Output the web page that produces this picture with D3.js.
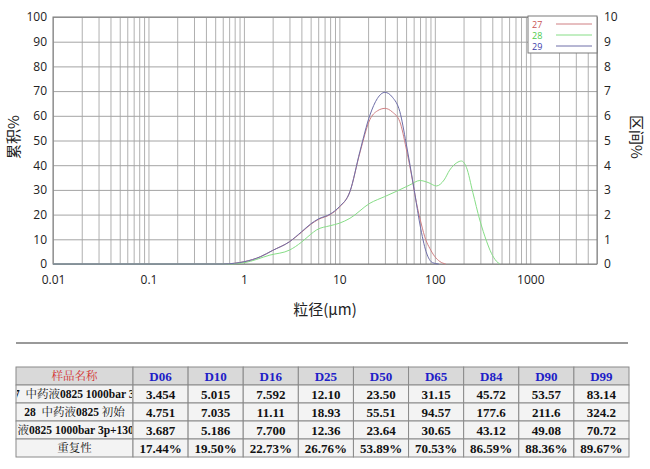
<!DOCTYPE html>
<html>
<head>
<meta charset="utf-8">
<script src="https://cdn.jsdelivr.net/npm/d3@7"></script>
<style>
  body { margin: 0; background: #fff; }
  svg { display: block; }
  .tick text { font-family: "Open Sans", "Noto Sans", sans-serif; font-size: 12px; fill: #222; }
</style>
</head>
<body>
<div id="chart"></div>
<script>
// particle size (um) and interval % for each sample
const sizes27 = [0.6, 0.8, 1.0, 1.5, 2, 3, 4, 5, 6, 8, 10, 12.9, 16.4, 20.9, 25, 30, 36, 43, 50, 57, 64, 72.6, 80, 88.7, 100, 113, 130];
const vals27  = [0, 0.03, 0.09, 0.3, 0.55, 0.9, 1.28, 1.6, 1.8, 2.0, 2.3, 2.93, 4.5, 5.85, 6.2, 6.3, 6.15, 5.76, 4.7, 3.6, 2.5, 1.58, 1.0, 0.63, 0.3, 0.1, 0];

const sizes28 = [0.7, 1.0, 1.87, 3.03, 4, 5, 5.77, 8, 10, 12.9, 20.9, 29.9, 40, 54.7, 69.7, 85, 104, 125, 143, 170, 190, 215, 250, 296, 350, 392, 440, 480];
const vals28  = [0, 0.05, 0.36, 0.57, 0.88, 1.2, 1.38, 1.55, 1.65, 1.85, 2.46, 2.73, 2.95, 3.2, 3.38, 3.3, 3.16, 3.4, 3.8, 4.1, 4.17, 3.9, 2.9, 1.78, 0.9, 0.43, 0.12, 0];

const sizes29 = [0.6, 0.8, 1.0, 1.5, 2, 3, 4, 5, 6, 8, 10, 12.9, 16.4, 20.9, 25, 30, 36, 43, 50, 55, 62, 70, 81, 95, 110];
const vals29  = [0, 0.03, 0.09, 0.3, 0.55, 0.9, 1.3, 1.62, 1.82, 2.02, 2.32, 2.93, 4.55, 6.03, 6.7, 6.95, 6.75, 6.17, 4.9, 4.0, 2.8, 1.58, 0.5, 0.05, 0];

const seriesNames = ["27", "28", "29"];
const xTicks = [0.01, 0.1, 1, 10, 100, 1000];
const leftTicks = [0, 10, 20, 30, 40, 50, 60, 70, 80, 90, 100];
const rightTicks = [0, 1, 2, 3, 4, 5, 6, 7, 8, 9, 10];

// table
const colLabels = ["D06", "D10", "D16", "D25", "D50", "D65", "D84", "D90", "D99"];
const rowNames = ["27  中药液0825 1000bar 3p", "28  中药液0825 初始", "29  中药液0825 1000bar 3p+1300bar 3p", "重复性"];
const row27 = ["3.454", "5.015", "7.592", "12.10", "23.50", "31.15", "45.72", "53.57", "83.14"];
const row28 = ["4.751", "7.035", "11.11", "18.93", "55.51", "94.57", "177.6", "211.6", "324.2"];
const row29 = ["3.687", "5.186", "7.700", "12.36", "23.64", "30.65", "43.12", "49.08", "70.72"];
const rowRep = ["17.44%", "19.50%", "22.73%", "26.76%", "53.89%", "70.53%", "86.59%", "88.36%", "89.67%"];

const W = 650, H = 469;
const plot = {left: 53, right: 597, top: 17, bottom: 264};

const svg = d3.select("#chart").append("svg")
    .attr("width", W)
    .attr("height", H);

const x = d3.scaleLog().domain([0.01, 5000]).range([plot.left, plot.right]);
const yL = d3.scaleLinear().domain([0, 100]).range([plot.bottom, plot.top]);
const yR = d3.scaleLinear().domain([0, 10]).range([plot.bottom, plot.top]);

// minor/major vertical grid values
let gridX = [];
for (let e = -2; e <= 3; e++) {
    for (let m = 1; m <= 9; m++) {
        let v = m * Math.pow(10, e);
        if (v <= 5000) gridX.push(+v.toPrecision(3));
    }
}

// vertical grid
svg.append("g")
    .attr("transform", "translate(0," + plot.bottom + ")")
    .call(d3.axisBottom(x).tickValues(gridX).tickSize(-(plot.bottom - plot.top)).tickFormat(""))
    .call(g => g.select(".domain").remove())
    .call(g => g.selectAll("line").attr("stroke", "#b0b0b0").attr("stroke-width", 1));

// horizontal grid
svg.append("g")
    .attr("transform", "translate(" + plot.left + ",0)")
    .call(d3.axisLeft(yL).tickValues(leftTicks).tickSize(-(plot.right - plot.left)).tickFormat(""))
    .call(g => g.select(".domain").remove())
    .call(g => g.selectAll("line").attr("stroke", "#a4a4a4").attr("stroke-width", 1));

// frame
svg.append("rect")
    .attr("x", plot.left).attr("y", plot.top)
    .attr("width", plot.right - plot.left).attr("height", plot.bottom - plot.top)
    .attr("fill", "none").attr("stroke", "#7a7a7a").attr("stroke-width", 1);

// left axis labels
svg.append("g")
    .attr("transform", "translate(" + plot.left + ",0)")
    .call(d3.axisLeft(yL).tickValues(leftTicks).tickSize(0).tickPadding(6))
    .call(g => g.select(".domain").remove());

// right axis labels
svg.append("g")
    .attr("transform", "translate(" + plot.right + ",0)")
    .call(d3.axisRight(yR).tickValues(rightTicks).tickSize(0).tickPadding(7))
    .call(g => g.select(".domain").remove());

// bottom axis labels
svg.append("g")
    .attr("transform", "translate(0," + plot.bottom + ")")
    .call(d3.axisBottom(x).tickValues(xTicks).tickSize(0).tickPadding(11).tickFormat(d => String(d)))
    .call(g => g.select(".domain").remove());

// axis titles
const titleFont = "'Noto Sans CJK SC', 'Noto Sans', sans-serif";
svg.append("text")
    .attr("transform", "translate(12,137) rotate(-90)")
    .attr("text-anchor", "middle").attr("dominant-baseline", "central")
    .attr("font-family", titleFont).attr("font-size", 15).attr("fill", "#222")
    .text("累积%");
svg.append("text")
    .attr("transform", "translate(637,137) rotate(90)")
    .attr("text-anchor", "middle").attr("dominant-baseline", "central")
    .attr("font-family", titleFont).attr("font-size", 15).attr("fill", "#222")
    .text("区间%");
svg.append("text")
    .attr("x", 325).attr("y", 308)
    .attr("text-anchor", "middle").attr("dominant-baseline", "central")
    .attr("font-family", titleFont).attr("font-size", 15).attr("fill", "#222")
    .text("粒径(μm)");

// curves
const series = [
    {name: "27", sizes: sizes27, vals: vals27, color: "#cf7f82", label: "#c85555"},
    {name: "28", sizes: sizes28, vals: vals28, color: "#86dd86", label: "#4ccc4c"},
    {name: "29", sizes: sizes29, vals: vals29, color: "#6e6ea8", label: "#3c3ca8"}
];

const line = d3.line()
    .x(d => x(d[0]))
    .y(d => yR(d[1]))
    .curve(d3.curveMonotoneX);

// flat zero baseline before the first point
series.forEach(s => {
    let pts = [[0.01, 0]].concat(s.sizes.map((v, i) => [v, s.vals[i]]));
    svg.append("path")
        .datum(pts)
        .attr("d", line)
        .attr("fill", "none")
        .attr("stroke", s.color)
        .attr("stroke-width", 1);
});

// legend
const leg = svg.append("g");
leg.append("rect")
    .attr("x", 528).attr("y", 16).attr("width", 69).attr("height", 37)
    .attr("fill", "#fff").attr("stroke", "#7a7a7a");
series.forEach((s, i) => {
    let yy = 24 + i * 11;
    leg.append("text")
        .attr("x", 532).attr("y", yy)
        .attr("dominant-baseline", "central")
        .attr("font-family", "'Open Sans', sans-serif").attr("font-size", 9)
        .attr("fill", s.label)
        .text(s.name);
    leg.append("line")
        .attr("x1", 556).attr("x2", 592).attr("y1", yy).attr("y2", yy)
        .attr("stroke", s.color).attr("stroke-width", 1);
});

// separator line
svg.append("line")
    .attr("x1", 16).attr("x2", 628).attr("y1", 343).attr("y2", 343)
    .attr("stroke", "#777").attr("stroke-width", 1.5);

// table
const tableFont = "'Liberation Serif', 'Noto Serif CJK SC', 'Noto Sans CJK SC', serif";
const firstCol = {x0: 16, x1: 133};
const colX = d3.scaleBand().domain(colLabels).range([133, 629]);
const rowKeys = ["head", "r27", "r28", "r29", "rep"];
const rowY = d3.scaleBand().domain(rowKeys).range([367, 457]);
const rowData = {r27: row27, r28: row28, r29: row29, rep: rowRep};

const tbl = svg.append("g");
svg.append("defs").append("clipPath").attr("id", "nameclip")
    .append("rect").attr("x", firstCol.x0 + 1).attr("y", 367)
    .attr("width", firstCol.x1 - firstCol.x0 - 2).attr("height", 90);

// split a label into CJK (normal weight) and latin (bold) runs
function runs(str) {
    return str.match(/[\u3000-\u9fff]+|[^\u3000-\u9fff]+/g) || [];
}

rowKeys.forEach((rk, ri) => {
    let y0 = rowY(rk), h = rowY.bandwidth();
    let bg = rk === "head" ? "#d9d9d9" : "#f3f3f3";
    tbl.append("rect")
        .attr("x", firstCol.x0).attr("y", y0)
        .attr("width", firstCol.x1 - firstCol.x0).attr("height", h)
        .attr("fill", bg).attr("stroke", "#8a8a8a");
    let t = tbl.append("text")
        .attr("x", (firstCol.x0 + firstCol.x1) / 2).attr("y", y0 + h / 2)
        .attr("text-anchor", "middle").attr("dominant-baseline", "central")
        .attr("font-family", tableFont).attr("font-size", 11.5)
        .attr("fill", rk === "head" ? "#d43030" : "#111")
        .attr("clip-path", "url(#nameclip)")
        .style("white-space", "pre");
    let label = rk === "head" ? "样品名称" : rowNames[ri - 1];
    runs(label).forEach(r => {
        t.append("tspan")
            .attr("font-weight", /[\u3000-\u9fff]/.test(r) ? "normal" : "bold")
            .text(r);
    });
    colLabels.forEach((c, ci) => {
        tbl.append("rect")
            .attr("x", colX(c)).attr("y", y0)
            .attr("width", colX.bandwidth()).attr("height", h)
            .attr("fill", bg).attr("stroke", "#8a8a8a");
        tbl.append("text")
            .attr("x", colX(c) + colX.bandwidth() / 2).attr("y", y0 + h / 2)
            .attr("text-anchor", "middle").attr("dominant-baseline", "central")
            .attr("font-family", tableFont).attr("font-size", 13)
            .attr("font-weight", "bold")
            .attr("fill", rk === "head" ? "#2020c8" : "#111")
            .text(rk === "head" ? c : rowData[rk][ci]);
    });
});
</script>
</body>
</html>
